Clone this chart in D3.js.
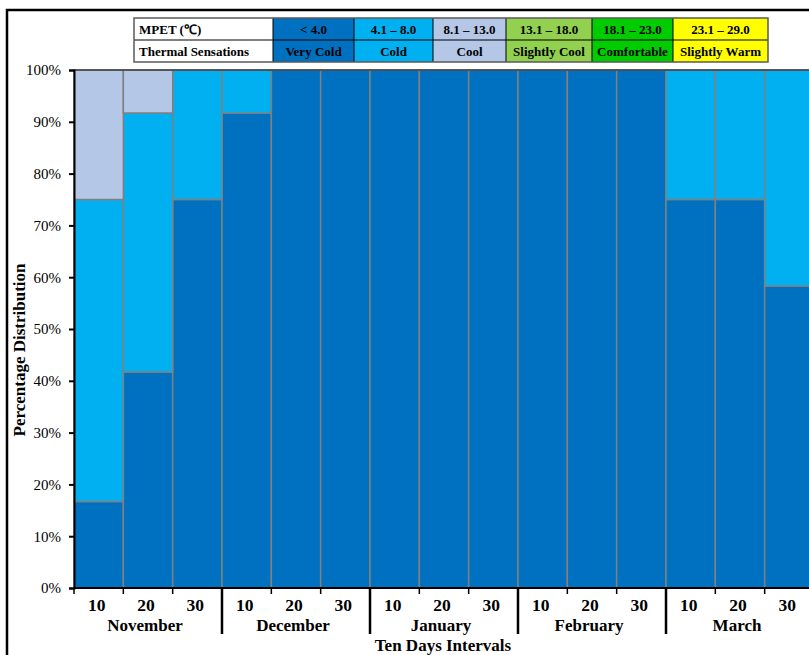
<!DOCTYPE html>
<html>
  <head>
    <meta charset="UTF-8">
    <title>Thermal sensations</title>
    <script src="https://d3js.org/d3.v7.min.js"></script>
    <style>
      body { margin: 0; background: #fff; overflow: hidden; }
      text { font-family: "Liberation Serif", "Times New Roman", serif; }
    </style>
  </head>

  <body>
    <div class="chart"></div>

    <script type="application/javascript">
      // data
      const months = ["November", "December", "January", "February", "March"];
      const days = ["10", "20", "30"];
      const veryCold = [16.7, 41.7, 75, 91.7, 100, 100, 100, 100, 100, 100, 100, 100, 75, 75, 58.3];
      const cold     = [58.3, 50, 25, 8.3, 0, 0, 0, 0, 0, 0, 0, 0, 25, 25, 41.7];
      const cool     = [25, 8.3, 0, 0, 0, 0, 0, 0, 0, 0, 0, 0, 0, 0, 0];
      const yTicks = [0, 10, 20, 30, 40, 50, 60, 70, 80, 90, 100];

      const mpetRanges = ["< 4.0", "4.1 \u2013 8.0", "8.1 \u2013 13.0", "13.1 \u2013 18.0", "18.1 \u2013 23.0", "23.1 \u2013 29.0"];
      const sensations = ["Very Cold", "Cold", "Cool", "Slightly Cool", "Comfortable", "Slightly Warm"];
      const colors = ["#0070C0", "#00B0F0", "#B4C7E7", "#92D050", "#00CC00", "#FFFF00"];

      const W = 809, H = 655;
      const m = {left: 74, right: 814, top: 70, bottom: 588};

      const svg = d3.select(".chart").append("svg")
        .attr("width", W).attr("height", H);

      // outer frame (cropped on right/bottom)
      svg.append("rect")
        .attr("x", 7).attr("y", 10).attr("width", 900).attr("height", 800)
        .attr("fill", "none").attr("stroke", "#000").attr("stroke-width", 2.5);

      const slots = d3.range(months.length * days.length);
      const x = d3.scaleBand().domain(slots).range([m.left, m.right]).padding(0);
      const y = d3.scaleLinear().domain([0, 100]).range([m.bottom, m.top]);

      const rows = slots.map(i => ({i, vc: veryCold[i], c: cold[i], co: cool[i]}));
      const stack = d3.stack().keys(["vc", "c", "co"])(rows);

      svg.append("g").selectAll("g").data(stack).join("g")
        .attr("fill", (d, k) => colors[k])
        .selectAll("rect").data(d => d.filter(p => p[1] > p[0])).join("rect")
        .attr("x", d => x(d.data.i))
        .attr("width", x.bandwidth())
        .attr("y", d => y(d[1]))
        .attr("height", d => y(d[0]) - y(d[1]))
        .attr("stroke", "#808080").attr("stroke-width", 1.5);

      // top edge of plot
      svg.append("line")
        .attr("x1", m.left).attr("x2", m.right)
        .attr("y1", y(100)).attr("y2", y(100))
        .attr("stroke", "#404040").attr("stroke-width", 1.5);

      // y axis
      const yAxis = svg.append("g")
        .attr("transform", `translate(${m.left},0)`)
        .call(d3.axisLeft(y).tickValues(yTicks).tickFormat(d => d + "%").tickSize(5).tickPadding(8));
      yAxis.select(".domain").attr("stroke", "#000").attr("stroke-width", 2);
      yAxis.selectAll(".tick line").attr("stroke", "#000").attr("stroke-width", 2);
      yAxis.selectAll("text").attr("font-size", 15).attr("fill", "#000")
        .style("font-family", "'Liberation Serif', serif");

      // x axis: small ticks at each slot boundary
      const xAxis = svg.append("g")
        .attr("transform", `translate(0,${m.bottom})`);
      xAxis.append("line")
        .attr("x1", m.left).attr("x2", m.right)
        .attr("stroke", "#000").attr("stroke-width", 2);
      xAxis.selectAll(".tk").data(slots).join("line")
        .attr("class", "tk")
        .attr("x1", d => x(d)).attr("x2", d => x(d))
        .attr("y1", 0).attr("y2", 6)
        .attr("stroke", "#000").attr("stroke-width", 1.5);

      // month separators
      xAxis.selectAll(".sep").data(months.slice(1)).join("line")
        .attr("class", "sep")
        .attr("x1", (d, k) => x((k + 1) * 3)).attr("x2", (d, k) => x((k + 1) * 3))
        .attr("y1", 0).attr("y2", 46)
        .attr("stroke", "#000").attr("stroke-width", 2.5);

      // day labels
      xAxis.selectAll(".day").data(slots).join("text")
        .attr("class", "day")
        .attr("x", d => x(d) + x.bandwidth() / 2 - 2)
        .attr("y", 23)
        .attr("text-anchor", "middle")
        .attr("font-size", 17.5).attr("font-weight", "bold")
        .text(d => days[d % 3]);

      // month labels
      xAxis.selectAll(".mon").data(months).join("text")
        .attr("class", "mon")
        .attr("x", (d, k) => x(k * 3) + x.bandwidth() * 1.5 - 3)
        .attr("y", 43)
        .attr("text-anchor", "middle")
        .attr("font-size", 17).attr("font-weight", "bold")
        .text(d => d);

      svg.append("text")
        .attr("x", 443).attr("y", 651)
        .attr("text-anchor", "middle")
        .attr("font-size", 17).attr("font-weight", "bold")
        .text("Ten Days Intervals");

      svg.append("text")
        .attr("transform", `translate(25,${(m.top + m.bottom) / 2 + 21}) rotate(-90)`)
        .attr("text-anchor", "middle")
        .attr("font-size", 17).attr("font-weight", "bold")
        .text("Percentage Distribution");

      // legend table
      const lg = svg.append("g");
      const colX = [134, 273, 354, 433, 506, 592, 673, 768];
      const rowY = [18, 40, 62];
      const firstCol = ["MPET  (\u2103)", "Thermal Sensations"];
      [mpetRanges, sensations].forEach((labels, r) => {
        lg.append("rect")
          .attr("x", colX[0]).attr("y", rowY[r])
          .attr("width", colX[1] - colX[0]).attr("height", rowY[r + 1] - rowY[r])
          .attr("fill", "#fff");
        lg.append("text")
          .attr("x", colX[0] + 5).attr("y", rowY[r] + 16)
          .attr("font-size", 13).attr("font-weight", "bold")
          .text(firstCol[r]);
        labels.forEach((t, k) => {
          lg.append("rect")
            .attr("x", colX[k + 1]).attr("y", rowY[r])
            .attr("width", colX[k + 2] - colX[k + 1]).attr("height", rowY[r + 1] - rowY[r])
            .attr("fill", colors[k]);
          lg.append("text")
            .attr("x", (colX[k + 1] + colX[k + 2]) / 2).attr("y", rowY[r] + 16)
            .attr("text-anchor", "middle")
            .attr("font-size", 13).attr("font-weight", "bold")
            .text(t);
        });
      });
      // grid lines of table
      lg.selectAll(".vl").data(colX.slice(1, -1)).join("line")
        .attr("x1", d => d).attr("x2", d => d)
        .attr("y1", rowY[0]).attr("y2", rowY[2])
        .attr("stroke", "#000").attr("stroke-width", 1);
      lg.append("line")
        .attr("x1", colX[0]).attr("x2", colX[7])
        .attr("y1", rowY[1]).attr("y2", rowY[1])
        .attr("stroke", "#000").attr("stroke-width", 1);
      lg.append("rect")
        .attr("x", colX[0]).attr("y", rowY[0])
        .attr("width", colX[7] - colX[0]).attr("height", rowY[2] - rowY[0])
        .attr("fill", "none").attr("stroke", "#595959").attr("stroke-width", 1.5);
    </script>
  </body>

</html>
